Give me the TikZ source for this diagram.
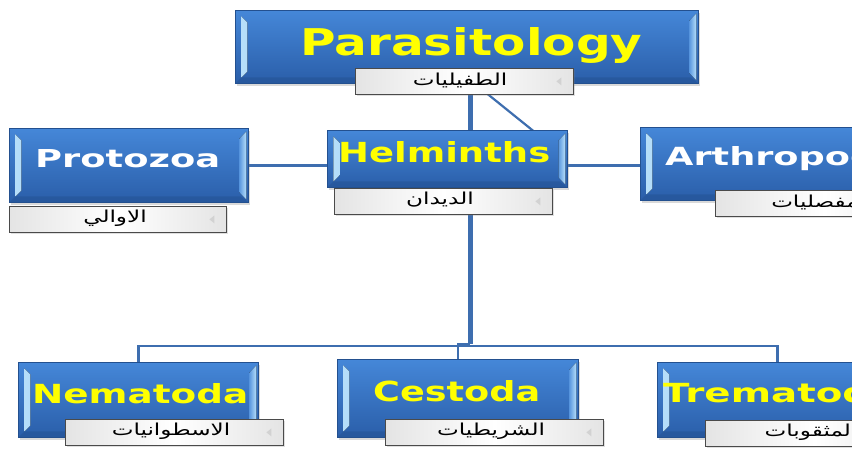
\documentclass[tikz,border=0pt]{standalone}
\usepackage{fontspec}
\usepackage{graphicx}
\usetikzlibrary{calc,shadows,backgrounds}
\newfontfamily\headfont{DejaVu Sans}
\newfontfamily\arabicfont[Script=Arabic,FakeStretch=1.4]{DejaVu Sans}
\TeXXeTstate=1

\definecolor{boxtop}{HTML}{4587D8}
\definecolor{boxbot}{HTML}{2A5EA9}
\definecolor{boxedge}{HTML}{23508F}
\definecolor{bevlight}{HTML}{B8E0FA}
\definecolor{bevmid}{HTML}{5B98DF}
\definecolor{linkblue}{HTML}{3E6EAF}
\definecolor{tagedge}{HTML}{4A4A4A}
\definecolor{taggray}{HTML}{E4E4E4}
\definecolor{titleyellow}{HTML}{FFFF00}

\tikzset{
  mainbox/.style={draw=boxedge, line width=0.8pt, top color=boxtop, bottom color=boxbot,
    anchor=north west, inner sep=0pt,
    drop shadow={shadow xshift=2pt, shadow yshift=-3pt, opacity=0.3},
    path picture={
      \fill[left color=bevlight, right color=bevmid]
        ($(path picture bounding box.north west)+(6pt,-6pt)$) -- ++(6pt,-6pt)
        -- ($(path picture bounding box.south west)+(12pt,12pt)$) -- ++(-6pt,-6pt) -- cycle;
      \fill[left color=bevmid, right color=bevlight]
        ($(path picture bounding box.north east)+(-2pt,-3pt)$) -- ++(-7pt,-7pt)
        -- ($(path picture bounding box.south east)+(-9pt,10pt)$) -- ++(7pt,-7pt) -- cycle;
      \fill[boxedge, opacity=0.45]
        ($(path picture bounding box.south west)+(0pt,0pt)$) -- ++(6pt,6pt)
        -- ($(path picture bounding box.south east)+(-8pt,6pt)$) -- ++(8pt,-6pt) -- cycle;
    }},
  tagbox/.style={draw=tagedge, line width=0.8pt, left color=taggray, right color=taggray,
    middle color=white, anchor=north west, inner sep=0pt,
    minimum width=218pt, minimum height=26pt,
    drop shadow={shadow xshift=1.5pt, shadow yshift=-1.5pt, opacity=0.25},
    path picture={
      \fill[gray!35]
        ($(path picture bounding box.east)+(-12pt,4pt)$) -- ++(0pt,-8pt) -- ++(-5pt,4pt) -- cycle;
    }},
  title/.style={anchor=base west, inner sep=0pt, font=\headfont\bfseries},
  tagtext/.style={inner sep=0pt, font=\arabicfont\fontsize{16.5}{16.5}\selectfont},
  link/.style={draw=linkblue, line width=2.2pt},
  trunk/.style={draw=linkblue, line width=5pt},
}

\begin{document}
\begin{tikzpicture}[x=1pt, y=-1pt]
  \useasboundingbox (0,0) rectangle (852,448);
  \clip (0,0) rectangle (852,448);

  % main boxes
  \node[mainbox, minimum width=463pt, minimum height=73pt] (para) at (235,10) {};
  \node[mainbox, minimum width=239pt, minimum height=74pt] (proto) at (9,128) {};
  \node[mainbox, minimum width=240pt, minimum height=57pt] (hel) at (327,130) {};
  \node[mainbox, minimum width=240pt, minimum height=73pt] (arth) at (640,127) {};
  \node[mainbox, minimum width=240pt, minimum height=75pt] (nema) at (18,362) {};
  \node[mainbox, minimum width=241pt, minimum height=78pt] (cest) at (337,359) {};
  \node[mainbox, minimum width=240pt, minimum height=75pt] (trem) at (657,362) {};

  % headings
  \node[title, text=titleyellow] (paraT) at (300,55) {\resizebox{342pt}{28pt}{Parasitology}};
  \node[title, text=white] (protoT) at (35,167) {\resizebox{185pt}{18pt}{Protozoa}};
  \node[title, text=titleyellow] (helT) at (338,162) {\resizebox{212pt}{21pt}{Helminths}};
  \node[title, text=white] (arthT) at (665,165) {\resizebox{236pt}{19pt}{Arthropoda}};
  \node[title, text=titleyellow] (nemaT) at (32,403) {\resizebox{216pt}{20pt}{Nematoda}};
  \node[title, text=titleyellow] (cestT) at (373,401) {\resizebox{167pt}{21pt}{Cestoda}};
  \node[title, text=titleyellow] (tremT) at (663,402) {\resizebox{233pt}{20pt}{Trematoda}};

  % Arabic tags
  \node[tagbox] (paraL) at (355,68) {};
  \node[tagbox, minimum width=217pt] (protoL) at (9,206) {};
  \node[tagbox] (helL) at (334,188) {};
  \node[tagbox] (arthL) at (715,190) {};
  \node[tagbox] (nemaL) at (65,419) {};
  \node[tagbox] (cestL) at (385,419) {};
  \node[tagbox] (tremL) at (705,420) {};

  \node[tagtext] (paraA) at (460,80) {\beginR الطفيليات\endR};
  \node[tagtext] (protoA) at (115,218) {\beginR الاوالي\endR};
  \node[tagtext] (helA) at (440,200) {\beginR الديدان\endR};
  \node[tagtext] (arthA) at (815,202) {\beginR مفصليات\endR};
  \node[tagtext] (nemaA) at (171,431) {\beginR الاسطوانيات\endR};
  \node[tagtext] (cestA) at (491,431) {\beginR الشريطيات\endR};
  \node[tagtext] (tremA) at (811,432) {\beginR المثقوبات\endR};

  % connectors
  \coordinate (trunkx) at (470,0);
  \coordinate (busy) at (0,346);
  \coordinate (jogy) at (0,344);
  \begin{scope}[on background layer]
    \draw[trunk] (para.south -| trunkx) -- (hel.north -| trunkx);
    \draw[link] ($(para.south)+(8,0)$) -- ($(hel.north)+(86,1)$);
    \draw[link] (proto.east) -- (proto.east -| hel.west);
    \draw[link] (hel.east |- proto.east) -- (arth.west |- proto.east);
    \draw[trunk] (helL.south -| trunkx) -- (trunkx |- jogy);
    \draw[link] (nema.north) -- (nema.north |- busy) -- (trem.north |- busy) -- (trem.north);
    \draw[link] (cest.north) -- (cest.north |- jogy) -- (trunkx |- jogy);
  \end{scope}
\end{tikzpicture}
\end{document}
